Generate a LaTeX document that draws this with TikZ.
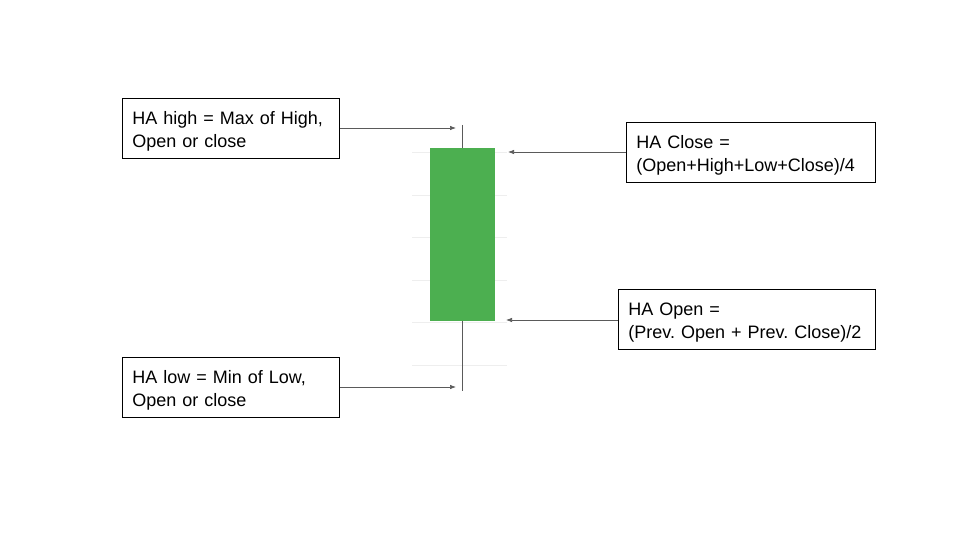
\documentclass[tikz,border=0pt]{standalone}
\usepackage{fontspec}
\setmainfont{Liberation Sans}
\usetikzlibrary{arrows.meta}
\definecolor{candle}{RGB}{76,175,80}
\definecolor{arr}{RGB}{90,90,90}
\definecolor{grid}{RGB}{238,238,238}
\frenchspacing
\begin{document}
\begin{tikzpicture}[x=1pt,y=-1pt,
  label box/.style={draw=black,line width=0.8pt,align=left,anchor=north west,
    inner xsep=10pt,inner ysep=0pt,text height=26.3pt,text depth=33.7pt,
    font=\fontsize{18}{23}\selectfont},
  pointer/.style={draw=arr,line width=0.7pt,-{Latex[length=6pt,width=4.5pt]}},
  gridline/.style={draw=grid,line width=0.6pt}]
\useasboundingbox (0,0) rectangle (960,540);
% faint grid
\foreach \yy in {152,195,237,280,322,365} \draw[gridline] (412,\yy) -- (507,\yy);
% wick and body
\coordinate (wtop) at (462,125);
\coordinate (wbot) at (462,391);
\draw[arr,line width=0.8pt] (wtop) -- (wbot);
\fill[candle] (430,148) rectangle (495,321);
% boxes
\node[label box,minimum width=217pt,text width=197pt] (hi) at (122,98) {HA high = Max of High,\\Open or close};
\node[label box,minimum width=249pt,text width=229pt] (cl) at (626,122) {HA Close =\\(Open+High+Low+Close)/4};
\node[label box,minimum width=257pt,text width=237pt] (op) at (618,289) {HA Open =\\(Prev. Open + Prev. Close)/2};
\node[label box,minimum width=217pt,text width=197pt] (lo) at (122,357) {HA low = Min of Low,\\Open or close};
% pointer ends
\coordinate (phi) at (456,128);
\coordinate (pcl) at (508,152);
\coordinate (pop) at (506,320);
\coordinate (plo) at (456,387);
\draw[pointer] (hi.east |- phi) -- (phi);
\draw[pointer] (cl.west |- pcl) -- (pcl);
\draw[pointer] (op.west |- pop) -- (pop);
\draw[pointer] (lo.east |- plo) -- (plo);
\end{tikzpicture}
\end{document}
